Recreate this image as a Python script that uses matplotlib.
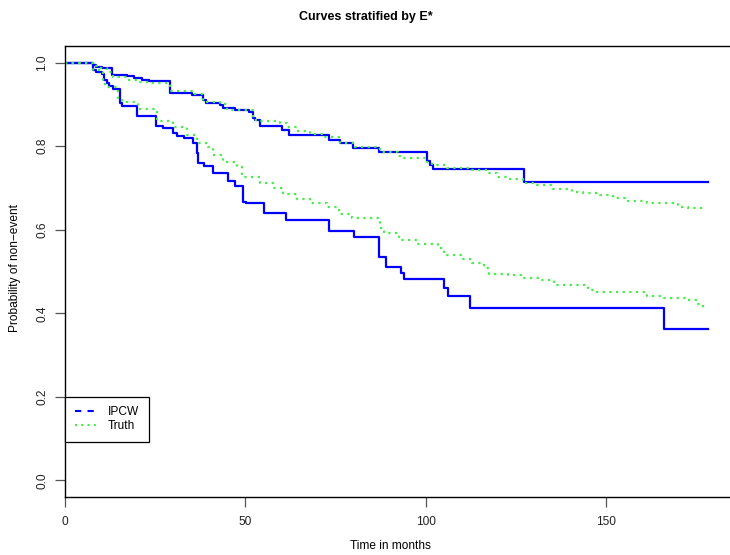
import matplotlib
matplotlib.use("Agg")
import matplotlib.pyplot as plt
from matplotlib.lines import Line2D

plt.rcParams['font.family'] = ['Liberation Sans', 'DejaVu Sans']

# IPCW estimates (step curves), upper and lower stratum
ipcw_hi_t = [0, 7.85, 8.6, 10.2, 12.9, 17.1, 19.1, 21.3, 23.4, 29.1, 35.1, 38.2, 39.1, 43.0, 43.9,
             47.2, 51.1, 52.0, 52.7, 54.1, 60.1, 62.2, 73.3, 76.2, 79.9, 87.1, 100.3, 101.2, 101.9,
             127.3, 178.4]
ipcw_hi_s = [1.0, 0.994, 0.990, 0.988, 0.971, 0.968, 0.963, 0.958, 0.955, 0.928, 0.922, 0.911, 0.903,
             0.899, 0.892, 0.887, 0.883, 0.867, 0.863, 0.849, 0.839, 0.827, 0.815, 0.808, 0.795, 0.785,
             0.765, 0.755, 0.746, 0.715, 0.715]

ipcw_lo_t = [0, 7.85, 8.6, 10.2, 10.9, 11.6, 12.3, 13.2, 15.2, 15.7, 20.0, 25.1, 27.3, 30.0, 31.1,
             33.1, 35.6, 36.5, 37.0, 38.4, 40.9, 45.1, 47.2, 49.4, 50.2, 55.2, 61.3, 73.3, 80.1, 87.1,
             89.1, 93.1, 94.0, 105.1, 106.1, 112.3, 166.2, 178.4]
ipcw_lo_s = [1.0, 0.983, 0.978, 0.973, 0.959, 0.951, 0.944, 0.936, 0.903, 0.897, 0.873, 0.848, 0.843,
             0.832, 0.824, 0.819, 0.807, 0.783, 0.761, 0.753, 0.737, 0.717, 0.705, 0.667, 0.663, 0.641,
             0.623, 0.597, 0.583, 0.535, 0.511, 0.497, 0.481, 0.460, 0.442, 0.413, 0.362, 0.362]

# true curves
truth_hi_t = [0, 7.85, 8.8, 11.6, 13.4, 17.1, 19.9, 23.6, 29.1, 35.1, 38.3, 39.3, 43.0, 44.8, 52.0,
              54.1, 59.6, 61.5, 64.2, 67.9, 71.6, 76.2, 80.4, 87.3, 92.4, 93.8, 100.3, 101.7, 105.8,
              112.3, 116.9, 119.7, 122.5, 127.1, 130.8, 135.4, 140.5, 143.7, 148.3, 152.0, 156.2,
              161.3, 170.0, 172.8, 177.4]
truth_hi_s = [1.0, 0.992, 0.987, 0.978, 0.965, 0.958, 0.953, 0.951, 0.932, 0.924, 0.911, 0.905, 0.900,
              0.887, 0.863, 0.861, 0.855, 0.847, 0.837, 0.829, 0.823, 0.808, 0.799, 0.787, 0.777,
              0.771, 0.763, 0.755, 0.747, 0.743, 0.735, 0.727, 0.721, 0.713, 0.707, 0.697, 0.691,
              0.687, 0.683, 0.675, 0.670, 0.663, 0.655, 0.653, 0.653]

truth_lo_t = [0, 7.85, 10.6, 11.1, 14.8, 15.7, 20.3, 25.4, 30.0, 33.7, 36.5, 39.7, 41.1, 43.9, 47.6,
              49.0, 54.1, 57.8, 60.5, 64.2, 67.9, 72.5, 76.0, 79.5, 87.3, 88.4, 92.7, 97.7, 103.5,
              105.1, 109.8, 112.8, 116.2, 117.6, 122.9, 126.3, 132.1, 135.6, 145.1, 147.6, 161.4,
              165.9, 172.5, 175.3, 177.0, 177.4]
truth_lo_s = [1.0, 0.983, 0.955, 0.943, 0.911, 0.907, 0.888, 0.861, 0.847, 0.827, 0.807, 0.799, 0.779,
              0.763, 0.751, 0.726, 0.713, 0.701, 0.686, 0.673, 0.665, 0.654, 0.637, 0.627, 0.603,
              0.591, 0.575, 0.566, 0.556, 0.540, 0.529, 0.520, 0.508, 0.494, 0.491, 0.485, 0.480,
              0.468, 0.456, 0.452, 0.441, 0.437, 0.432, 0.422, 0.413, 0.413]

x_ticks = [0, 50, 100, 150]
y_ticks = [0.0, 0.2, 0.4, 0.6, 0.8, 1.0]
legend_labels = ['IPCW', 'Truth']

W, H = 730, 555
fig = plt.figure(figsize=(W / 100, H / 100), dpi=100)
ax = fig.add_axes([65 / W, 1 - 497 / H, 1 - 65 / W, (497 - 46) / H])

blue = '#0000ff'
green = '#44ee44'
for t, s in [(ipcw_hi_t, ipcw_hi_s), (ipcw_lo_t, ipcw_lo_s)]:
    ax.step(t, s, where='post', color=blue, lw=1.6)
for t, s in [(truth_hi_t, truth_hi_s), (truth_lo_t, truth_lo_s)]:
    ax.step(t, s, where='post', color=green, lw=1.6, linestyle=(0, (1, 2)))

ax.set_xlim(0, (W - 65) / 3.607)
ax.set_ylim(-0.04, 1.04)
ax.spines['right'].set_visible(False)
for sp in ['left', 'top', 'bottom']:
    ax.spines[sp].set_linewidth(1.0)
    ax.spines[sp].set_color('black')

ax.set_xticks(x_ticks)
ax.set_xticklabels([str(v) for v in x_ticks])
ax.set_yticks(y_ticks)
ax.set_yticklabels(['%.1f' % v for v in y_ticks], rotation=90, va='center')
ax.tick_params(axis='both', length=7, width=0.9, color='#555555', labelsize=8.6, labelcolor='#222222')
ax.tick_params(axis='x', pad=7)
ax.tick_params(axis='y', pad=5)

handles = [Line2D([], [], color=blue, lw=1.5, linestyle=(0, (3, 3))),
           Line2D([], [], color=green, lw=1.5, linestyle=(0, (1, 2)))]
leg = ax.legend(handles, legend_labels, loc='upper left', bbox_to_anchor=(0, 0.2),
                bbox_transform=ax.transData, borderaxespad=0, fancybox=False,
                edgecolor='black', framealpha=1, fontsize=8.6, handlelength=1.8,
                handletextpad=1.0, borderpad=0.8, labelspacing=0.15)
leg.get_frame().set_linewidth(0.9)

fig.text(366 / W, 1 - 17 / H, 'Curves stratified by E*', ha='center', va='center',
         fontsize=9, fontweight='bold')
fig.text(390 / W, 1 - 546 / H, 'Time in months', ha='center', va='center', fontsize=8.6)
fig.text(15 / W, 1 - 268 / H, 'Probability of non\u2212event', ha='center', va='center',
         rotation=90, fontsize=8.6)

fig.savefig('out.png', dpi=100)
